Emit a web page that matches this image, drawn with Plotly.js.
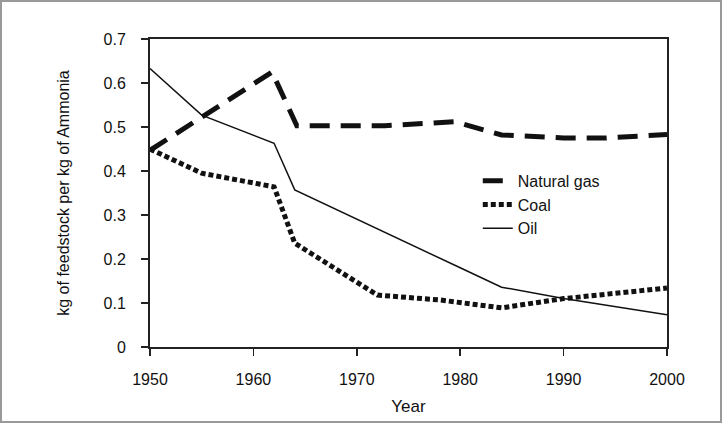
<!DOCTYPE html>
<html>
<head>
<meta charset="utf-8">
<script src="https://cdn.plot.ly/plotly-3.0.1.min.js"></script>
<style>
html,body{margin:0;padding:0;background:#fff;}
#wrap{position:relative;width:722px;height:423px;}
#chart{width:722px;height:423px;}
#frame{position:absolute;left:0;top:0;width:722px;height:423px;box-sizing:border-box;border:2px solid #999;pointer-events:none;}
</style>
</head>
<body>
<div id="wrap"><div id="chart"></div><div id="frame"></div></div>
<script>
const gasYears = [1950, 1961.8, 1964.2, 1972.7, 1979.5, 1984, 1990, 1994, 2000];
const gasValues = [0.447, 0.625, 0.503, 0.503, 0.512, 0.482, 0.475, 0.475, 0.483];

const coalYears = [1950, 1955, 1962, 1964, 1972, 1978, 1984, 1990, 2000];
const coalValues = [0.45, 0.395, 0.364, 0.236, 0.118, 0.107, 0.089, 0.11, 0.134];

const oilYears = [1950, 1955, 1962, 1964, 1980, 1984, 1990, 2000];
const oilValues = [0.633, 0.527, 0.463, 0.357, 0.18, 0.136, 0.11, 0.073];

const seriesNames = ['Natural gas', 'Coal', 'Oil'];
const xTicks = [1950, 1960, 1970, 1980, 1990, 2000];
const yTicks = [0, 0.1, 0.2, 0.3, 0.4, 0.5, 0.6, 0.7];

const font = 'Liberation Sans, Arial, Helvetica, sans-serif';

const traces = [
  {x: gasYears, y: gasValues, name: seriesNames[0], mode: 'lines',
   line: {color: '#111', width: 5, dash: '20px,11px'}},
  {x: coalYears, y: coalValues, name: seriesNames[1], mode: 'lines',
   line: {color: '#111', width: 5, dash: '5px,3px'}},
  {x: oilYears, y: oilValues, name: seriesNames[2], mode: 'lines',
   line: {color: '#111', width: 1.5}}
];

const layout = {
  width: 722, height: 423,
  margin: {l: 150, r: 55, t: 39, b: 76},
  paper_bgcolor: '#fff', plot_bgcolor: '#fff',
  font: {family: font, size: 16, color: '#111'},
  showlegend: true,
  legend: {x: 0.634, y: 0.595, xanchor: 'left', yanchor: 'top',
           bgcolor: 'rgba(0,0,0,0)', font: {size: 16, family: font, color: '#111'}},
  xaxis: {range: [1950, 2000], tickvals: xTicks, ticktext: xTicks.map(String),
          showgrid: false, zeroline: false, showline: true, linecolor: '#222', linewidth: 2,
          mirror: true, ticks: 'outside', ticklen: 7, tickcolor: '#222', tickwidth: 1.5,
          ticklabelstandoff: 10,
          tickfont: {size: 16}, title: {text: 'Year', font: {size: 17}, standoff: 13}},
  yaxis: {range: [0, 0.7], tickvals: yTicks, ticktext: yTicks.map(v => v === 0 ? '0' : v.toFixed(1)),
          showgrid: false, zeroline: false, showline: true, linecolor: '#222', linewidth: 2,
          mirror: true, ticks: 'outside', ticklen: 7, tickcolor: '#222', tickwidth: 1.5,
          ticklabelstandoff: 12,
          tickfont: {size: 16}, title: {text: 'kg of feedstock per kg of Ammonia', font: {size: 16}, standoff: 30}}
};

Plotly.newPlot('chart', traces, layout, {displayModeBar: false, staticPlot: true});
</script>
</body>
</html>
